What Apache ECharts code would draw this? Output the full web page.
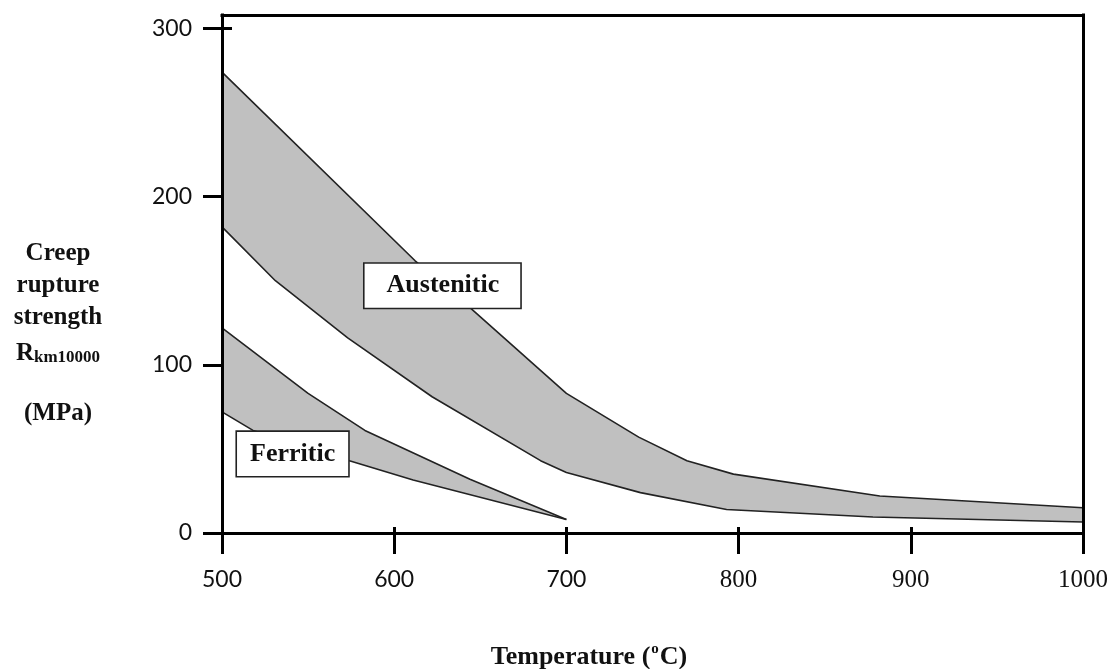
<!DOCTYPE html>
<html>
<head>
<meta charset="utf-8">
<script src="https://cdn.jsdelivr.net/npm/echarts@6/dist/echarts.min.js"></script>
<style>
html,body{margin:0;padding:0;background:#fff;}
#chart{width:1113px;height:669px;}
</style>
</head>
<body>
<div id="chart"></div>
<script>
// Temperature (°C) ticks and strength (MPa) ticks
const tempTicks = [500, 600, 700, 800, 900, 1000];
const strengthTicks = [0, 100, 200, 300];

// Band edges: [temperature, creep rupture strength]
const austeniticUpper = [[500, 274], [612, 162], [644, 134], [700, 83], [742, 57], [770, 43], [797, 35], [882, 22], [1000, 15]];
const austeniticLower = [[500, 182], [531, 150], [573, 116], [622, 81], [685, 43], [700, 36], [743, 24], [793, 14], [878, 9.5], [1000, 6.5]];
const ferriticUpper = [[500, 122], [550, 83], [583, 61], [644, 32], [700, 8]];
const ferriticLower = [[500, 72], [518, 61], [574, 43], [611, 31.5], [700, 8]];

// Band label anchor points [temperature, strength]
const austeniticLabelAt = [628, 147];
const ferriticLabelAt = [541, 47];

const serif = '"Liberation Serif", "Times New Roman", serif';
const sans = 'Lato, "Open Sans", sans-serif';

function bandRenderer(upper, lower) {
  return function (params, api) {
    const pts = upper.concat(lower.slice().reverse()).map(p => api.coord(p));
    return { type: 'polygon', shape: { points: pts }, style: { fill: '#c0c0c0', stroke: null } };
  };
}

const edgeStyle = { color: '#222', width: 1.6 };
function edge(data) {
  return { type: 'line', data: data, symbol: 'none', z: 4, silent: true, lineStyle: edgeStyle, xAxisIndex: 0, yAxisIndex: 0 };
}

const blackLine = { color: '#000', width: 3, cap: 'square' };
const tickLine = { color: '#000', width: 3 };

const chart = echarts.init(document.getElementById('chart'), null, { renderer: 'canvas' });
chart.setOption({
  animation: false,
  backgroundColor: '#fff',
  grid: { left: 222, right: 30, top: 15, bottom: 136, outerBoundsMode: 'none', containLabel: false },
  xAxis: [
    {
      type: 'value', min: 500, max: 1000, interval: 100, position: 'bottom', z: 10,
      axisLine: { show: true, onZero: false, lineStyle: blackLine },
      axisTick: { show: true, inside: false, length: 21, customValues: tempTicks, lineStyle: tickLine },
      axisLabel: {
        margin: 35, customValues: tempTicks,
        formatter: v => (v >= 800 ? '{s|' + v + '}' : '{n|' + v + '}'),
        rich: {
          n: { fontFamily: sans, fontSize: 23, color: '#111' },
          s: { fontFamily: serif, fontSize: 25, color: '#111' }
        }
      },
      splitLine: { show: false }
    },
    {
      type: 'value', min: 500, max: 1000, interval: 100, position: 'bottom', z: 0,
      axisLine: { show: false, onZero: false },
      axisTick: { show: true, inside: true, length: 6, customValues: tempTicks, lineStyle: tickLine },
      axisLabel: { show: false }, splitLine: { show: false }
    },
    {
      type: 'value', min: 500, max: 1000, position: 'top', z: 10,
      axisLine: { show: true, onZero: false, lineStyle: blackLine },
      axisTick: { show: false }, axisLabel: { show: false }, splitLine: { show: false }
    }
  ],
  yAxis: [
    {
      type: 'value', min: 0, max: 308, interval: 100, position: 'left', z: 10,
      axisLine: { show: true, onZero: false, lineStyle: blackLine },
      axisTick: { show: true, inside: false, length: 19, customValues: strengthTicks, lineStyle: tickLine },
      axisLabel: { margin: 30, customValues: strengthTicks, fontFamily: sans, fontSize: 23, color: '#111' },
      splitLine: { show: false }
    },
    {
      type: 'value', min: 0, max: 308, interval: 100, position: 'left', z: 0,
      axisLine: { show: false, onZero: false },
      axisTick: { show: true, inside: true, length: 10, customValues: strengthTicks, lineStyle: tickLine },
      axisLabel: { show: false }, splitLine: { show: false }
    },
    {
      type: 'value', min: 0, max: 308, position: 'right', z: 10,
      axisLine: { show: true, onZero: false, lineStyle: blackLine },
      axisTick: { show: false }, axisLabel: { show: false }, splitLine: { show: false }
    }
  ],
  series: [
    { type: 'custom', coordinateSystem: 'cartesian2d', xAxisIndex: 0, yAxisIndex: 0, z: 2, silent: true,
      renderItem: bandRenderer(austeniticUpper, austeniticLower), data: [[500, 0]], clip: false },
    { type: 'custom', coordinateSystem: 'cartesian2d', xAxisIndex: 0, yAxisIndex: 0, z: 2, silent: true,
      renderItem: bandRenderer(ferriticUpper, ferriticLower), data: [[500, 0]], clip: false },
    edge(austeniticUpper),
    edge(austeniticLower),
    edge(ferriticUpper),
    edge(ferriticLower),
    {
      type: 'scatter', xAxisIndex: 0, yAxisIndex: 0, z: 6, silent: true, symbolSize: 0,
      itemStyle: { opacity: 1 },
      data: [
        { value: austeniticLabelAt, name: 'Austenitic', label: { padding: [9, 21, 9, 22] } },
        { value: ferriticLabelAt, name: 'Ferritic', label: { padding: [9, 13, 9, 13] } }
      ],
      label: {
        show: true, position: 'inside', formatter: p => p.name, opacity: 1,
        fontFamily: serif, fontWeight: 'bold', fontSize: 26, color: '#111',
        backgroundColor: '#fff', borderColor: '#222', borderWidth: 1.6, lineHeight: 26
      }
    }
  ],
  graphic: [
    {
      type: 'text', z: 10,
      x: 58, y: 238,
      style: {
        text: 'Creep\nrupture\nstrength\n{R|R}{sub|km10000}\n\n(MPa)',
        align: 'center', verticalAlign: 'top',
        fontFamily: serif, fontWeight: 'bold', fontSize: 25, lineHeight: 32, fill: '#111',
        rich: {
          R: { fontFamily: serif, fontWeight: 'bold', fontSize: 25, lineHeight: 32, fill: '#111', verticalAlign: 'bottom' },
          sub: { fontFamily: serif, fontWeight: 'bold', fontSize: 17, lineHeight: 28, fill: '#111', verticalAlign: 'bottom' }
        }
      }
    },
    {
      type: 'text', z: 10, x: 589, y: 655,
      style: {
        text: '{t|Temperature (}{sup|o}{t|C)}',
        align: 'center', verticalAlign: 'middle',
        rich: {
          t: { fontFamily: serif, fontWeight: 'bold', fontSize: 26, fill: '#111', lineHeight: 30, verticalAlign: 'bottom' },
          sup: { fontFamily: serif, fontWeight: 'bold', fontSize: 15, fill: '#111', lineHeight: 15, verticalAlign: 'top', padding: [2, 1, 0, 1] }
        }
      }
    }
  ]
});
</script>
</body>
</html>
